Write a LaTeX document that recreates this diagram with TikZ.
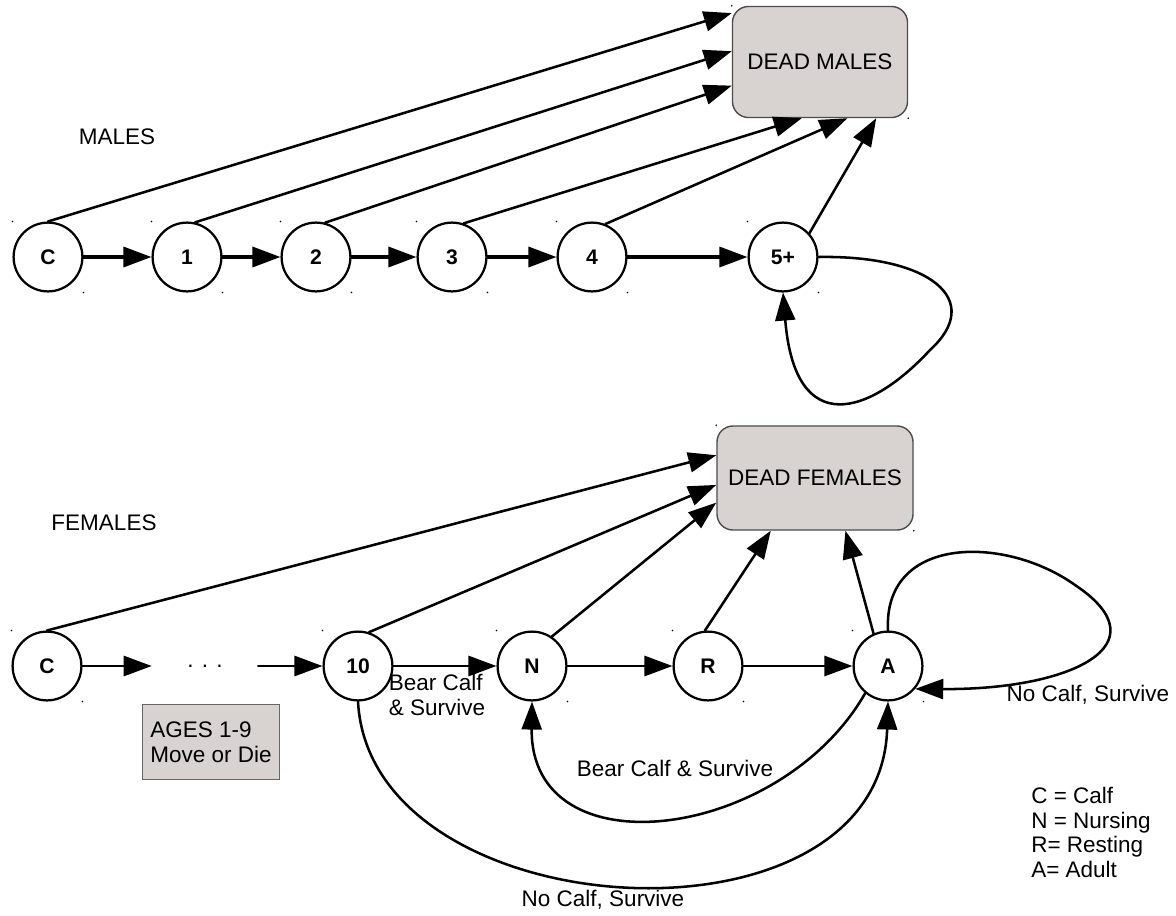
\documentclass[tikz,border=0pt]{standalone}
\usepackage{fontspec}
\setmainfont{Liberation Sans}
\usetikzlibrary{arrows.meta}
\definecolor{deadgray}{RGB}{216,210,209}

\begin{document}
\begin{tikzpicture}[x=0.025cm,y=-0.025cm,>={Triangle[length=0.7cm,width=0.5cm]},line cap=round,line width=1.8pt,
  font=\fontsize{16}{17.5}\selectfont,
  stage/.style={circle,draw,line width=1.6pt,minimum size=1.72cm,inner sep=0pt,font=\fontsize{15}{16}\selectfont\bfseries},
  deadbox/.style={draw=black!70,line width=1pt,fill=deadgray,rounded corners=0.4cm,inner sep=0pt},
  lbl/.style={inner sep=0pt,align=left}]
\useasboundingbox (0,0) rectangle (1176,915);
% males
\node[stage] (mC) at (48,257) {C};
\node[stage] (m1) at (187,257) {1};
\node[stage] (m2) at (316,257) {2};
\node[stage] (m3) at (452,257) {3};
\node[stage] (m4) at (592,257) {4};
\node[stage] (m5) at (783,257) {5+};
\node[deadbox,minimum width=4.375cm,minimum height=2.775cm] (dm) at (820,62) {DEAD MALES};
\node[lbl] (mlabel) at (117,137) {MALES};
\foreach \a/\b in {mC/m1,m1/m2,m2/m3,m3/m4,m4/m5} \draw[->,line width=2.4pt] (\a) -- (\b);
\draw[->] (mC.north) -- (dm.151);
\draw[->] (m1.77) -- (dm.173);
\draw[->] (m2.75) -- (dm.195);
\draw[->] (m3.71) -- (dm.252);
\draw[->] (m4.68) -- (dm.296);
\draw[->] (m5.42) -- (dm.315);
\draw[->] (m5.east) .. controls (930,255) and (985,300) .. (930,350) .. controls (870,415) and (795,440) .. (m5.south);
% females
\node[stage] (fC) at (47,666) {C};
\node[inner sep=0pt,minimum width=2.6cm] (fdots) at (205,666) {. . .};
\node[stage] (f10) at (358,666) {10};
\node[stage] (fN) at (532,666) {N};
\node[stage] (fR) at (708,666) {R};
\node[stage] (fA) at (888,666) {A};
\node[deadbox,minimum width=4.9cm,minimum height=2.6cm] (df) at (815,478) {DEAD FEMALES};
\node[draw=black!60,line width=0.8pt,fill=deadgray,minimum width=3.425cm,minimum height=1.875cm,align=left] (ages) at (211,742) {AGES 1-9\\Move or Die};
\node[lbl] (flabel) at (104,523) {FEMALES};
\foreach \a/\b in {fC/fdots,fdots/f10,f10/fN,fN/fR,fR/fA} \draw[->,line width=2pt] (\a) -- (\b);
\draw[->] (fC.north) -- (df.167);
\draw[->] (f10.72) -- (df.184);
\draw[->] (fN.56) -- (df.194);
\draw[->] (fR.95) -- (df.230);
\draw[->] (fA.114) -- (df.300);
\draw[->] (fA.north) .. controls (883,535) and (1005,535) .. (1075,585) .. controls (1165,645) and (1070,690) .. (fA.-40);
\draw[->] (fA.-130) .. controls (780,842) and (530,872) .. (fN.south);
\draw[->] (f10.south) .. controls (370,930) and (880,960) .. (fA.south);
\node[lbl] (bcsA) at (437,695) {Bear Calf\\\& Survive};
\node[lbl] (bcsB) at (675,768) {Bear Calf \& Survive};
\node[lbl] (ncsA) at (603,900) {No Calf, Survive};
\node[lbl] (ncsB) at (1088,695) {No Calf, Survive};
\node[lbl,anchor=north west] (legend) at (1030,786) {C = Calf\\N = Nursing\\R= Resting\\A= Adult};
% selection handles
\foreach \n in {mC,m1,m2,m3,m4,m5,fC,f10,fN,fR,fA,dm,df}
  {\fill (\n.west |- \n.north) circle (0.6pt); \fill (\n.east |- \n.south) circle (0.6pt);}
\end{tikzpicture}
\end{document}
